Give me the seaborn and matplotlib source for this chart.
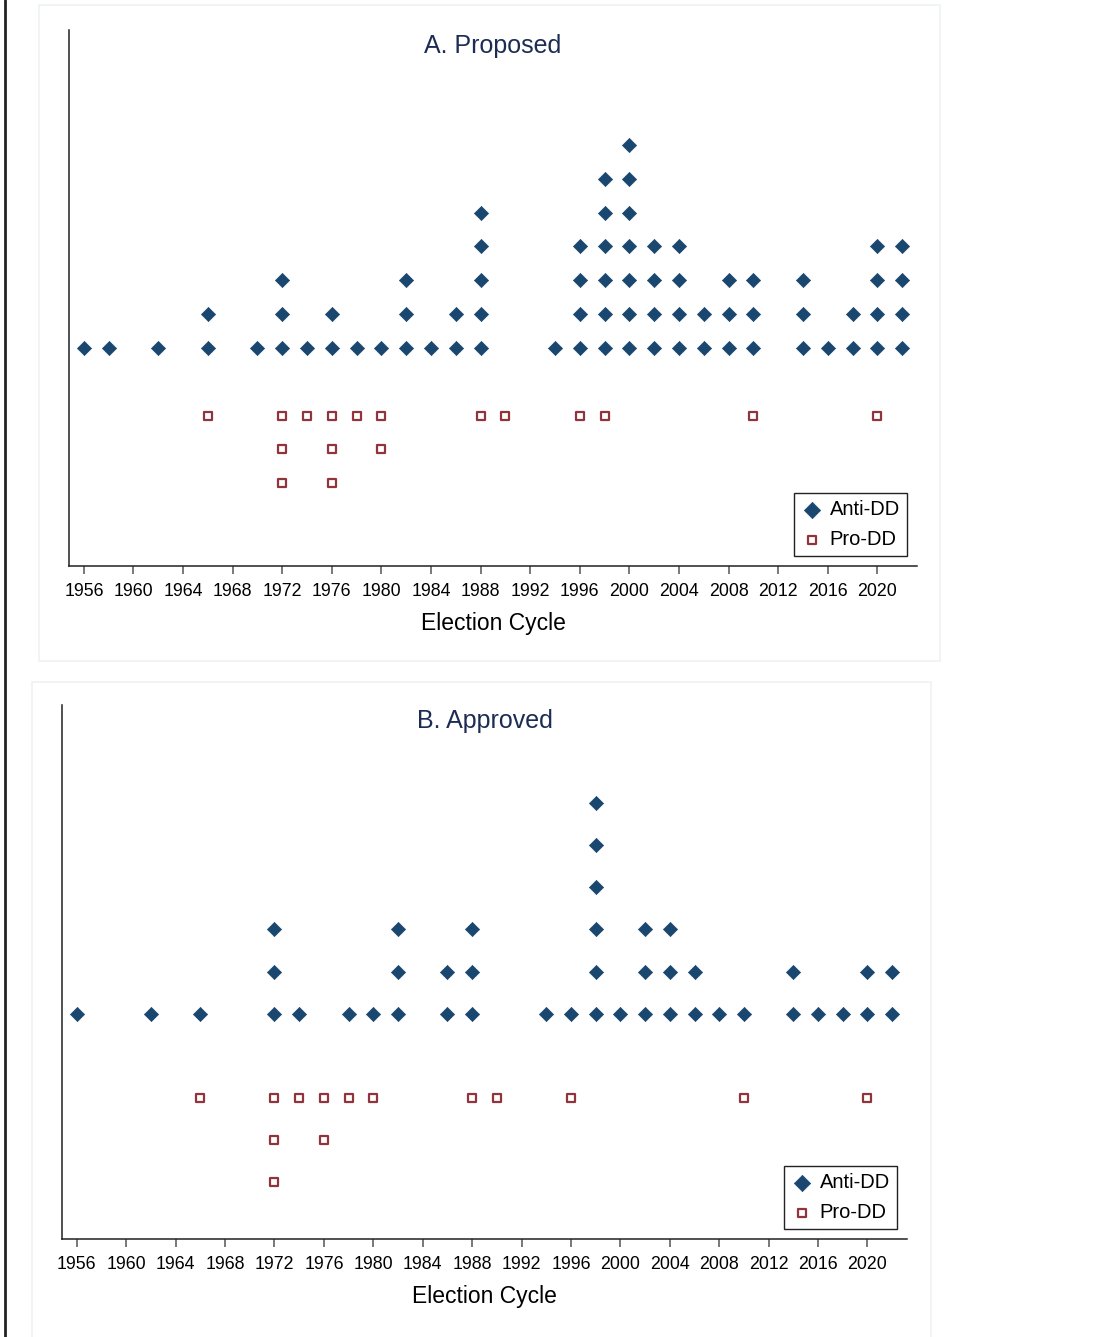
import numpy as np
import pandas as pd
import matplotlib
matplotlib.use("Agg")
import matplotlib.pyplot as plt
from matplotlib.patches import Rectangle
from matplotlib.lines import Line2D
import seaborn as sns

# Data: number of measures per election cycle
years = list(range(1956, 2023, 2))

proposed_anti = [1, 1, 0, 1, 0, 2, 0, 1, 3, 1, 2, 1, 1, 3, 1, 2, 5, 0, 0,
                 1, 4, 6, 7, 4, 4, 2, 3, 3, 0, 3, 1, 2, 4, 4]
proposed_pro = [0, 0, 0, 0, 0, 1, 0, 0, 3, 1, 3, 1, 2, 0, 0, 0, 1, 1, 0,
                0, 1, 1, 0, 0, 0, 0, 0, 1, 0, 0, 0, 0, 1, 0]

approved_anti = [1, 0, 0, 1, 0, 1, 0, 0, 3, 1, 0, 1, 1, 3, 0, 2, 3, 0, 0,
                 1, 1, 6, 1, 3, 3, 2, 1, 1, 0, 2, 1, 1, 2, 2]
approved_pro = [0, 0, 0, 0, 0, 1, 0, 0, 3, 1, 2, 1, 1, 0, 0, 0, 1, 1, 0,
                0, 1, 0, 0, 0, 0, 0, 0, 1, 0, 0, 0, 0, 1, 0]

xticks = list(range(1956, 2021, 4))
NAVY = "#1a476f"
MAROON = "#90353b"


def stack_points(counts, sign):
    # one row per measure, stacked up (anti) or down (pro) from zero
    rows = []
    for yr, n in zip(years, counts):
        for k in range(1, n + 1):
            rows.append((yr, sign * k))
    return pd.DataFrame(rows, columns=["year", "pos"])


sns.set_theme(style="white")
plt.rcParams["font.family"] = ["Liberation Sans", "DejaVu Sans"]
plt.rcParams["text.color"] = "black"
plt.rcParams["xtick.color"] = "#555555"
plt.rcParams["xtick.labelcolor"] = "black"
plt.rcParams["axes.labelcolor"] = "black"

fig = plt.figure(figsize=(11.1, 13.37), dpi=100)

# faint panel frames and left border
fig.patches.append(Rectangle((39 / 1110, 1 - 661 / 1337), 901 / 1110, 656 / 1337,
                             transform=fig.transFigure, fill=False,
                             edgecolor="#eef2f2", linewidth=1.2))
fig.patches.append(Rectangle((32 / 1110, 1 - 1340 / 1337), 899 / 1110, 658 / 1337,
                             transform=fig.transFigure, fill=False,
                             edgecolor="#eef2f2", linewidth=1.2))
fig.lines.append(Line2D([5 / 1110, 5 / 1110], [0, 1], transform=fig.transFigure,
                        color="#222222", linewidth=2))

panels = [
    ("A. Proposed", proposed_anti, proposed_pro,
     [69 / 1110, 1 - 566 / 1337, 848 / 1110, 536 / 1337], (-5.45, 10.4)),
    ("B. Approved", approved_anti, approved_pro,
     [62 / 1110, 1 - 1239 / 1337, 845 / 1110, 534 / 1337], (-4.34, 8.32)),
]

for title, anti, pro, rect, ylim in panels:
    ax = fig.add_axes(rect)
    ax.set_facecolor("none")
    anti_df = stack_points(anti, 1)
    pro_df = stack_points(pro, -1)

    sns.scatterplot(data=anti_df, x="year", y="pos", marker="D", s=52,
                    color=NAVY, edgecolor=NAVY, linewidth=0.5,
                    label="Anti-DD", ax=ax)
    sns.scatterplot(data=pro_df, x="year", y="pos", marker="s", s=30,
                    facecolor="white", edgecolor=MAROON, linewidth=1.6,
                    label="Pro-DD", ax=ax)

    ax.set_xlim(1954.8, 2023.2)
    ax.set_ylim(*ylim)
    ax.set_xticks(xticks)
    ax.set_xticklabels([str(t) for t in xticks], fontsize=12.8)
    ax.set_yticks([])
    ax.set_ylabel("")
    ax.set_xlabel("Election Cycle", fontsize=16.5, labelpad=9)
    ax.tick_params(axis="x", direction="out", length=6, width=1.1,
                   pad=6, bottom=True)
    for side in ["top", "right"]:
        ax.spines[side].set_visible(False)
    for side in ["left", "bottom"]:
        ax.spines[side].set_color("#222222")
        ax.spines[side].set_linewidth(1.1)

    ax.text(0.5, 1 - 16 / 536, title, transform=ax.transAxes, ha="center",
            va="center", fontsize=18, color="#1c2c54")

    leg = ax.legend(loc="lower right", fontsize=14.5, frameon=True,
                    fancybox=False, edgecolor="#222222", framealpha=1,
                    borderaxespad=0.5, handletextpad=0.4, borderpad=0.35,
                    labelspacing=0.55, handlelength=1.0, markerscale=1.15)
    leg.get_frame().set_linewidth(1.0)

fig.savefig("out.png", dpi=100)
